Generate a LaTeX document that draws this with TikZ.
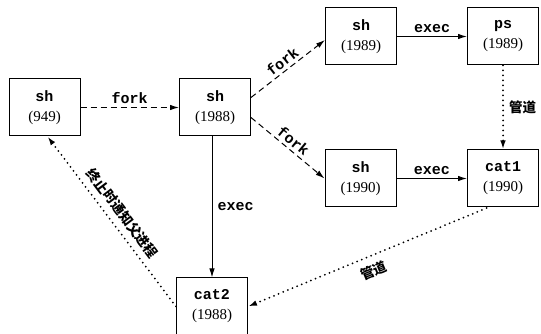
\documentclass[tikz,border=0pt]{standalone}
\usepackage{fontspec}
\setmainfont{Liberation Serif}
\setmonofont{Liberation Mono}
\newfontfamily\cjk{Noto Sans CJK SC}
\usetikzlibrary{arrows.meta}
\newcommand\pn[1]{{\ttfamily\bfseries #1}}
\begin{document}
\begin{tikzpicture}[x=1pt,y=1pt,
  box/.style={draw, line width=1pt, minimum width=71pt, minimum height=57pt, inner sep=0pt, align=center, font=\fontsize{15}{20}\selectfont},
  lbl/.style={font=\ttfamily\bfseries\fontsize{15}{16}\selectfont, inner sep=2pt},
  clbl/.style={font=\cjk\bfseries\fontsize{13.5}{15}\selectfont, inner sep=2pt},
  tipend/.style={-{Latex[length=9pt,width=5.5pt]}},
  tipstart/.style={{Latex[length=9pt,width=5.5pt]}-},
  solidarrow/.style={line width=1pt},
  dasharrow/.style={line width=1pt, dash pattern=on 6pt off 4pt},
  dotarrow/.style={line width=2pt, line cap=round, dash pattern=on 0pt off 5pt},
]
\useasboundingbox (0,0) rectangle (541,334);
\node[box] (a) at (44.5,226.5) {\pn{sh}\\(949)};
\node[box] (b) at (215,226.5) {\pn{sh}\\(1988)};
\node[box] (c) at (361,297.5) {\pn{sh}\\(1989)};
\node[box] (d) at (503,297.5) {\pn{ps}\\(1989)};
\node[box] (e) at (360.5,155.5) {\pn{sh}\\(1990)};
\node[box] (f) at (503,155.5) {\pn{cat1}\\(1990)};
\node[box] (g) at (212,27.5) {\pn{cat2}\\(1988)};

\draw[dasharrow,tipend] (a) -- node[lbl,above=1pt] {fork} (b);
\draw[dasharrow,tipend] ([yshift=10pt]b.east) -- node[lbl,sloped,above=1pt] {fork} ([yshift=-3.5pt]c.west);
\draw[dasharrow,tipend] ([yshift=-10pt]b.east) -- node[lbl,sloped,above=1pt] {fork} (e.west);
\draw[solidarrow,tipend] (c) -- node[lbl,above=1pt] {exec} (d);
\draw[solidarrow,tipend] (e) -- node[lbl,above=1pt] {exec} (f);
\draw[solidarrow,tipend] (b.south -| g.north) -- node[lbl,right=3pt] {exec} (g.north);
\draw[dotarrow,tipend] (d.south) -- node[clbl,right=3pt] {管道} (f.north);
\draw[dotarrow,tipstart] (g.east) -- node[clbl,sloped,below=5pt] {管道} ([xshift=-15pt]f.south);
\draw[dotarrow,tipstart] ([xshift=3pt]a.south) -- node[clbl,sloped,above=4pt] {终止时通知父进程} (g.west);
\end{tikzpicture}
\end{document}
